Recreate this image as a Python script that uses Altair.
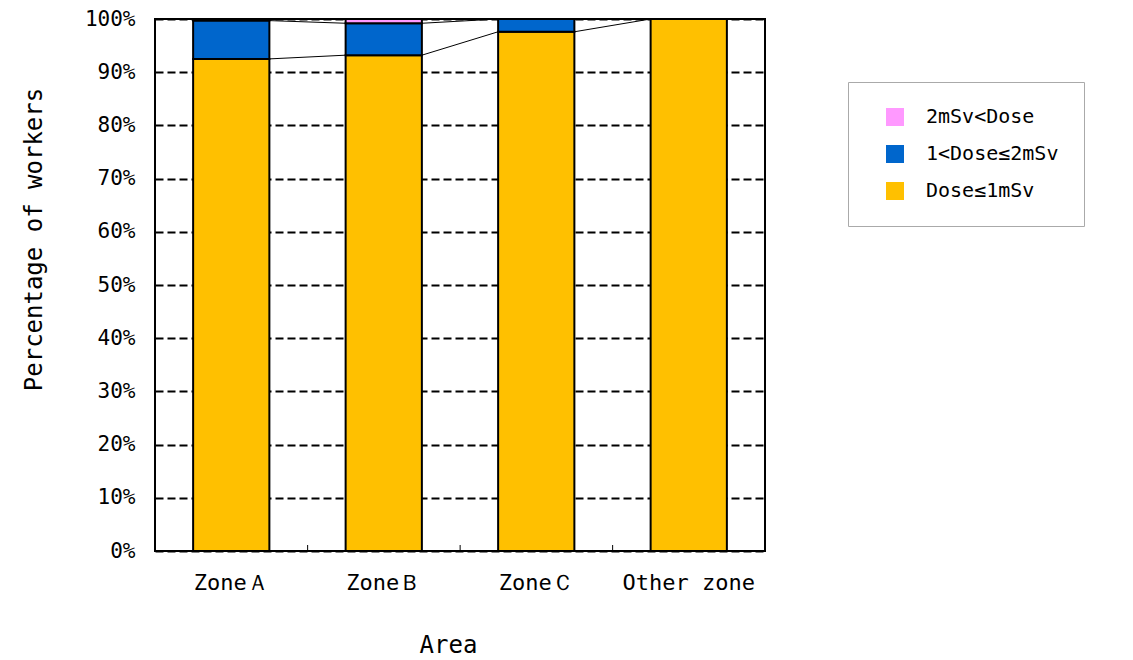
import altair as alt
import pandas as pd

categories = ["Zone\uff21", "Zone\uff22", "Zone\uff23", "Other zone"]
series = ["2mSv<Dose", "1<Dose≤2mSv", "Dose≤1mSv"]
colors = ["#FF99FF", "#0066CC", "#FFC000"]
low = [92.5, 93.2, 97.6, 100.0]   # Dose≤1mSv
mid = [7.2, 6.0, 2.4, 0.0]        # 1<Dose≤2mSv
high = [0.3, 0.8, 0.0, 0.0]       # 2mSv<Dose

FONT = "DejaVu Sans Mono"

rows = []
for i, c in enumerate(categories):
    rows.append({"cat": c, "series": series[2], "val": low[i], "ord": 0})
    rows.append({"cat": c, "series": series[1], "val": mid[i], "ord": 1})
    rows.append({"cat": c, "series": series[0], "val": high[i], "ord": 2})
df = pd.DataFrame(rows)

# series lines connecting segment tops between adjacent bars
tops = {
    "low": low,
    "mid": [l + m for l, m in zip(low, mid)],
    "high": [l + m + h for l, m, h in zip(low, mid, high)],
}
lines = []
for k, t in tops.items():
    for i in range(len(categories) - 1):
        lines.append({"a": categories[i], "b": categories[i + 1], "ya": t[i], "yb": t[i + 1]})
ldf = pd.DataFrame(lines)

tdf = pd.DataFrame({"cat": categories[1:]})

xscale = alt.Scale(domain=categories, paddingInner=0.5, paddingOuter=0.25)
yscale = alt.Scale(domain=[0, 100], nice=False)

bars = alt.Chart(df).mark_bar(stroke="black", strokeWidth=2).encode(
    x=alt.X("cat:N", scale=xscale, title="Area",
            axis=alt.Axis(labelAngle=0, labelFont=FONT, labelFontSize=22, labelColor="black",
                          labelPadding=21, ticks=False, domain=False, titleFont=FONT,
                          titleFontSize=24, titleFontWeight="normal", titleColor="black",
                          titlePadding=40, titleX=293)),
    y=alt.Y("val:Q", scale=yscale, stack="zero", title="Percentage of workers",
            axis=alt.Axis(values=list(range(0, 101, 10)), labelExpr="datum.value + '%'",
                          labelFont=FONT, labelFontSize=21, labelColor="black", labelPadding=20,
                          ticks=False, domain=False, grid=True, gridColor="black", gridWidth=2,
                          gridDash=[8, 4], gridOpacity=1, titleFont=FONT, titleFontSize=24,
                          titleFontWeight="normal", titleColor="black", titlePadding=38,
                          titleY=220)),
    color=alt.Color("series:N", scale=alt.Scale(domain=series, range=colors),
                    legend=alt.Legend(title=None, orient="none", legendX=693, legendY=63,
                                      labelFont=FONT, labelFontSize=20, labelColor="black",
                                      symbolType="square", symbolSize=324, symbolStrokeWidth=0,
                                      symbolOpacity=1, labelOffset=21, rowPadding=17,
                                      padding=25, symbolOffset=12, strokeColor="#aaaaaa",
                                      fillColor="white", labelLimit=400)),
    order=alt.Order("ord:Q", sort="ascending"),
)

slines = alt.Chart(ldf).mark_rule(color="black", strokeWidth=1).encode(
    x=alt.X("a:N", scale=xscale, bandPosition=1),
    x2=alt.X2("b:N", bandPosition=0),
    y=alt.Y("ya:Q", scale=yscale),
    y2=alt.Y2("yb:Q"),
)

ticks = alt.Chart(tdf).mark_rule(color="black", strokeWidth=1, xOffset=-38).encode(
    x=alt.X("cat:N", scale=xscale, bandPosition=0),
    y=alt.value(532),
    y2=alt.value(526),
)

chart = alt.layer(bars, slines, ticks).properties(
    width=610, height=532, background="white",
    padding={"left": 14, "top": 0, "right": 0, "bottom": 5}
).configure_view(stroke="black", strokeWidth=2)

chart.save("out.html", embed_options={"renderer": "svg", "actions": False})
